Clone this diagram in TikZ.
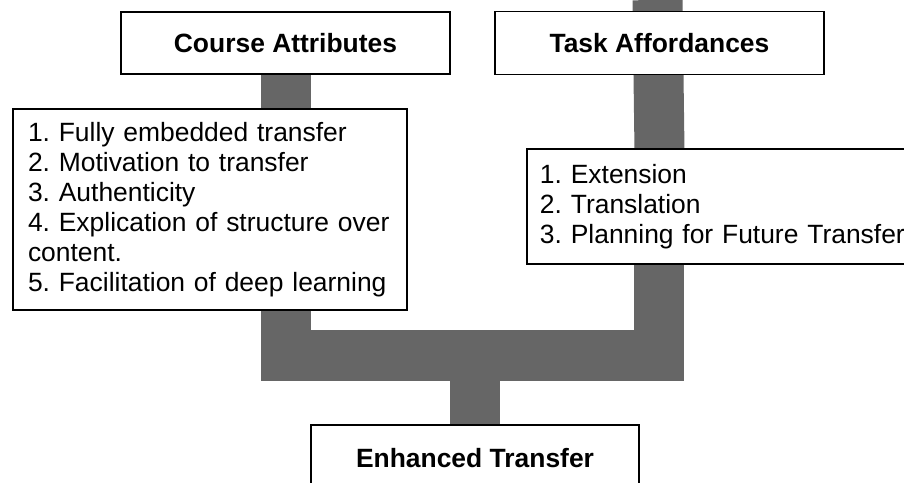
\documentclass[tikz,border=0pt]{standalone}
\usepackage{fontspec}
\setmainfont{Liberation Sans}
\usepackage{xcolor}
\usetikzlibrary{positioning,backgrounds}
\definecolor{barfill}{HTML}{666666}
\tikzset{
  hdr/.style={draw,line width=1.4pt,fill=white,font=\bfseries,
              minimum width=8.225cm,minimum height=1.55cm},
  lst/.style={draw,line width=1.4pt,fill=white,align=left,
              inner xsep=0.375cm},
  bar/.style={draw=barfill,line width=1.25cm,line join=miter},
}

\begin{document}
\fontsize{18.8pt}{21.3pt}\selectfont\frenchspacing
\begin{tikzpicture}
\useasboundingbox (0,0) rectangle (22.6,-12.075);
\clip (0,0) rectangle (22.6,-12.075);

% headers and lists
\node[hdr] (course) at (7.1375,-1.075) {Course Attributes};
\node[hdr,right=1.075cm of course,minimum height=1.575cm] (task) {Task Affordances};

\node[lst,below=0.825cm of course,xshift=-1.8875cm,text width=9.1cm,
      minimum height=5.025cm] (courselist) {
  1. Fully embedded transfer\\
  2. Motivation to transfer\\
  3. Authenticity\\
  4. Explication of structure over\\
  content.\\
  5. Facilitation of deep learning
};
\node[lst,below=1.825cm of task,xshift=1.7625cm,text width=9.5cm,inner xsep=0.325cm,
      minimum height=2.875cm] (tasklist) {
  1. Extension\\
  2. Translation\\
  3. Planning for Future Transfer
};

\node[hdr,below=2.825cm of courselist,xshift=6.625cm,minimum width=8.2cm,
      minimum height=1.65cm] (enhanced) {Enhanced Transfer};

\coordinate (top)   at (16.4375,0);
\coordinate (merge) at (0,-8.8875);

% thick grey connectors behind the boxes
\begin{scope}[on background layer]
  \draw[bar] (course.south) -- (course.south |- courselist.north);
  \draw[bar] (top) -- (task.south |- tasklist.north);
  \draw[bar] (course.south |- courselist.south) -- (course.south |- merge)
             -- (task.south |- merge) -- (task.south |- tasklist.south);
  \draw[bar] (enhanced.north |- merge) -- (enhanced.north);
\end{scope}
\end{tikzpicture}
\end{document}
